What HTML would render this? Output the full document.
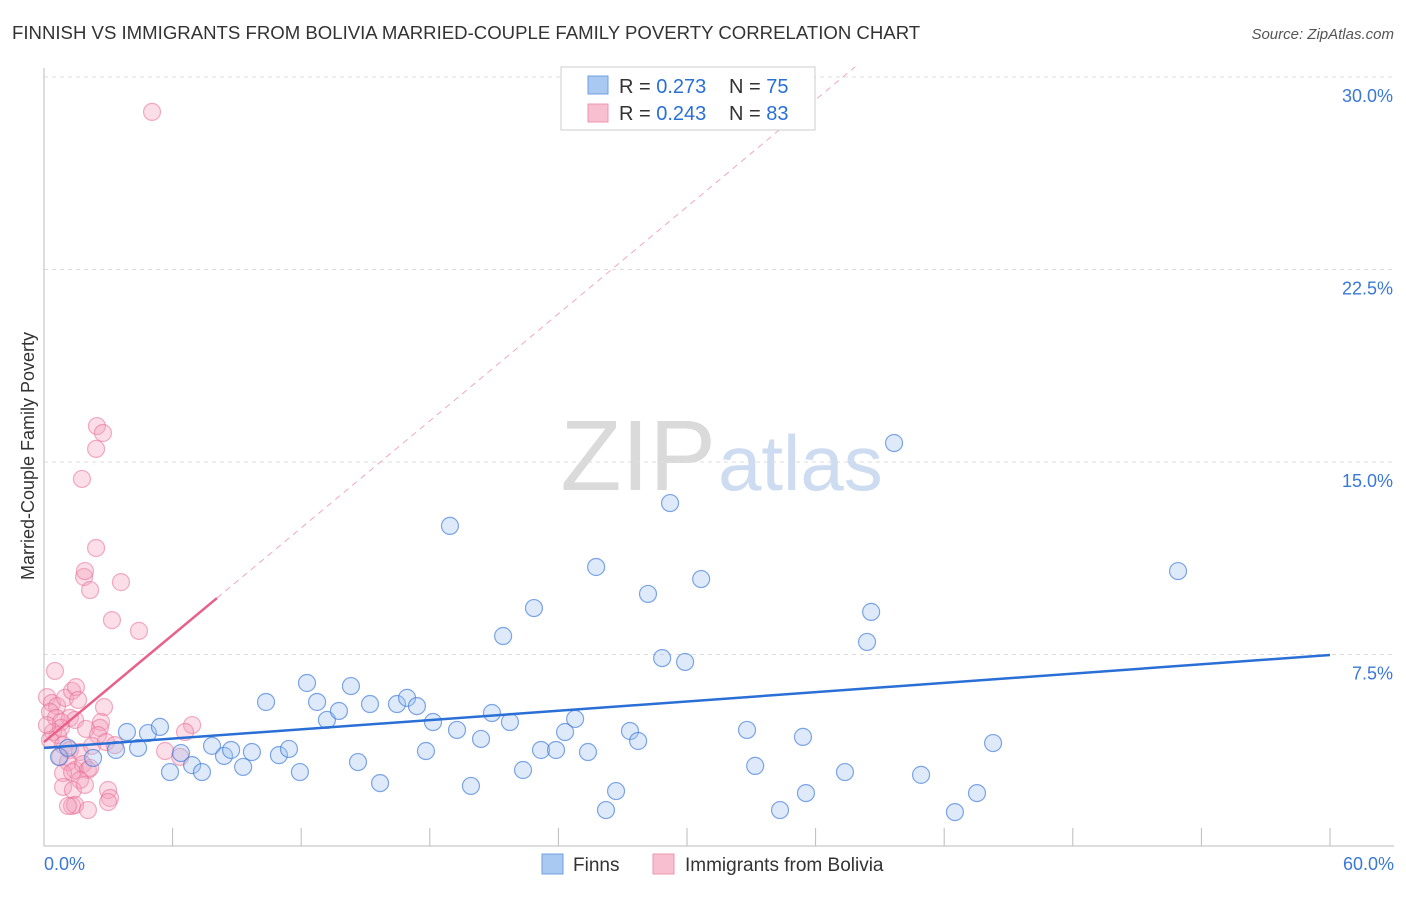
<!DOCTYPE html>
<html><head><meta charset="utf-8"><style>
body{margin:0;background:#fff;font-family:"Liberation Sans",sans-serif}
svg text{font-family:"Liberation Sans",sans-serif}
</style></head><body>
<svg id="c" width="1406" height="892">
<text x="12" y="39" font-size="18.6" fill="#333">FINNISH VS IMMIGRANTS FROM BOLIVIA MARRIED-COUPLE FAMILY POVERTY CORRELATION CHART</text>
<text x="1394" y="39" font-size="15" fill="#555" text-anchor="end" font-style="italic">Source: ZipAtlas.com</text>
<text x="716" y="490" font-size="100" fill="#dadada" text-anchor="end" font-family="Liberation Serif">ZIP</text>
<text x="718" y="490" font-size="78" fill="#cddcf0">atlas</text>
<text transform="translate(34,456) rotate(-90)" font-size="18" fill="#333" text-anchor="middle">Married-Couple Family Poverty</text>
<g id="grid"></g><g id="axes"></g><g id="pts"></g><g id="lines"></g>
<g>
<rect x="561" y="67" width="254" height="63" fill="#fff" stroke="#ccc"/>
<rect x="588" y="76" width="20" height="18" fill="#a9c8f2" stroke="#6f9fe0"/>
<rect x="588" y="104" width="20" height="18" fill="#f8bfd0" stroke="#ee94b0"/>
<text x="619" y="93" font-size="20" fill="#333">R = <tspan fill="#2a6fd6">0.273</tspan></text>
<text x="729" y="93" font-size="20" fill="#333">N = <tspan fill="#2a6fd6">75</tspan></text>
<text x="619" y="120" font-size="20" fill="#333">R = <tspan fill="#2a6fd6">0.243</tspan></text>
<text x="729" y="120" font-size="20" fill="#333">N = <tspan fill="#2a6fd6">83</tspan></text>
</g>
<g>
<rect x="542" y="854" width="21" height="20" fill="#a9c8f2" stroke="#6f9fe0"/>
<text x="573" y="871" font-size="19" fill="#333">Finns</text>
<rect x="653" y="854" width="21" height="20" fill="#f8bfd0" stroke="#ee94b0"/>
<text x="685" y="871" font-size="19" fill="#333">Immigrants from Bolivia</text>
</g>
</svg>
<script>
const finnsX=[0.70,1.12,2.29,3.87,4.39,3.36,4.85,5.41,5.88,6.39,6.91,7.37,7.84,8.40,8.73,9.29,9.70,10.36,10.96,11.43,11.94,12.27,12.74,13.20,13.76,14.32,14.65,15.21,15.68,16.47,16.94,17.40,17.82,18.15,18.94,19.27,19.92,20.39,20.90,21.42,21.74,22.35,22.86,23.19,23.89,24.31,24.78,25.38,25.76,26.22,26.69,27.34,27.72,28.18,28.84,29.21,29.91,30.66,32.80,33.18,34.34,35.41,35.55,37.37,38.40,38.59,39.66,40.92,42.50,43.53,44.28,52.91];
const finnsY=[3.51,3.86,3.47,4.48,3.86,3.78,4.44,4.68,2.92,3.66,3.19,2.92,3.94,3.55,3.78,3.12,3.70,5.65,3.58,3.82,2.92,6.39,5.65,4.95,5.30,6.27,3.31,5.57,2.49,5.57,5.81,5.49,3.74,4.87,12.51,4.56,2.38,4.21,5.22,8.22,4.87,3.00,9.31,3.78,3.78,4.48,4.99,3.70,10.91,1.44,2.18,4.52,4.13,9.86,7.36,13.40,7.21,10.44,4.56,3.16,1.44,4.29,2.10,2.92,7.99,9.16,15.74,2.81,1.36,2.10,4.05,10.75];
const bolX=[5.04,2.47,2.75,2.43,1.77,2.43,1.87,1.91,2.15,3.59,3.17,4.43,0.51,0.14,0.37,0.61,0.98,1.31,1.49,1.59,0.28,0.56,1.21,1.45,0.79,0.42,0.65,0.28,2.80,2.66,1.96,2.61,2.52,0.89,1.21,1.68,2.24,2.89,3.31,5.65,6.35,6.91,6.58,0.75,1.12,1.45,1.82,2.05,0.89,1.31,1.68,2.15,0.89,1.35,1.91,2.99,3.08,1.31,1.45,2.05,2.99,1.12,0.79,0.14];
const bolY=[28.64,16.40,16.13,15.51,14.34,11.65,10.52,10.75,10.01,10.32,8.84,8.42,6.86,5.84,5.61,5.49,5.81,6.08,6.23,5.73,5.26,5.03,5.03,4.95,4.87,4.48,4.36,4.17,5.45,4.87,4.60,4.64,4.36,3.97,3.78,3.70,3.94,4.09,3.97,3.74,3.51,4.75,4.48,3.51,3.31,3.00,3.23,3.00,2.88,2.92,2.61,3.08,2.34,2.22,2.42,2.22,1.91,1.60,1.64,1.44,1.75,1.60,4.64,4.75];
const yTicks=[7.5,15,22.5,30];
const yTickLabels=["7.5%","15.0%","22.5%","30.0%"];
const finnsTrend=[3.86,7.48];
const bolTrend=[4.09,9.70];
const bolTrendEnd=8.07;
const X=v=>44+v/60*1286, Y=v=>847-v/7.5*192.5;
const NS="http://www.w3.org/2000/svg";
function mk(p,t,a){const e=document.createElementNS(NS,t);for(const k in a)e.setAttribute(k,a[k]);document.getElementById(p).appendChild(e);return e;}
yTicks.forEach((t,i)=>{
 const g=mk('grid','line',{x1:44,x2:1394,y1:Y(t),y2:Y(t),stroke:'#ddd','stroke-dasharray':'4,4'});
 
 
 const l=mk('grid','text',{x:1393,y:Y(t)+25,'font-size':18,fill:'#3a78d6','text-anchor':'end'});
 l.textContent=yTickLabels[i];
 
 
});
mk('axes','line',{x1:44,x2:44,y1:68,y2:846,stroke:'#bbb'});
mk('axes','line',{x1:44,x2:1394,y1:846,y2:846,stroke:'#bbb'});
for(let i=1;i<=10;i++){mk('axes','line',{x1:X(i*6),x2:X(i*6),y1:828,y2:846,stroke:'#bbb'});}
const x0=mk('axes','text',{x:44,y:870,'font-size':18,fill:'#3a78d6'});x0.textContent='0.0%';


const x1=mk('axes','text',{x:1394,y:870,'font-size':18,fill:'#3a78d6','text-anchor':'end'});x1.textContent='60.0%';


bolX.forEach((v,i)=>{const c=mk('pts','circle',{cx:X(v),cy:Y(bolY[i]),r:8.5,fill:'rgba(244,160,188,0.35)',stroke:'rgba(232,110,150,0.55)','stroke-width':1.2});
 
 });
finnsX.forEach((v,i)=>{const c=mk('pts','circle',{cx:X(v),cy:Y(finnsY[i]),r:8.5,fill:'rgba(160,195,240,0.35)',stroke:'rgba(60,120,215,0.65)','stroke-width':1.2});
 
 });
const fl=mk('lines','line',{x1:X(0),y1:Y(finnsTrend[0]),x2:X(60),y2:Y(finnsTrend[1]),stroke:'#2a6fd6','stroke-width':2.5});


const slope=(bolTrend[1]-bolTrend[0])/bolTrendEnd;
const xEnd=(30.4-bolTrend[0])/slope;
const bd=mk('lines','line',{x1:X(bolTrendEnd),y1:Y(bolTrend[1]),x2:X(xEnd),y2:Y(30.4),stroke:'#f0a8c0','stroke-width':1,'stroke-dasharray':'6,5'});


const bl=mk('lines','line',{x1:X(0),y1:Y(bolTrend[0]),x2:X(bolTrendEnd),y2:Y(bolTrend[1]),stroke:'#e8608a','stroke-width':2.5});


</script>
</body></html>
